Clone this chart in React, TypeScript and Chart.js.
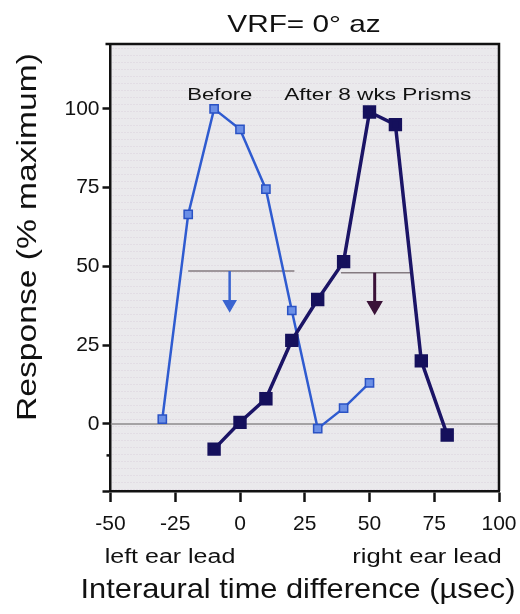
import React, { useEffect, useRef } from "react";
import { Chart, registerables } from "chart.js";

Chart.register(...registerables);

// ---- data ----
const itdBefore = [-30, -20, -10, 0, 10, 20, 30, 40, 50];
const respBefore = [1.5, 66.5, 100, 93.5, 74.5, 36, -1.5, 5, 13];
const itdAfter = [-10, 0, 10, 20, 30, 40, 50, 60, 70, 80];
const respAfter = [-8, 0.5, 8, 26.5, 39.5, 51.5, 99, 95, 20, -3.5];
const halfBeforeX = [-20, 21];
const halfBeforeY = 48.5;
const halfAfterX = [39, 66];
const halfAfterY = 48;
const arrowBeforeX = -4;
const arrowBeforeY = [48.5, 38];
const arrowAfterX = 52;
const arrowAfterY = [48, 37.5];
const zeroLineX = [-50, 100];
const xTickValues = [-50, -25, 0, 25, 50, 75, 100];
const yTickValues = [0, 25, 50, 75, 100];
const yMinorTick = -10;
const xRange = [-50, 100];
const yRange = [-21.3, 120.6];

const FONT = "'Liberation Sans', Arial, Helvetica, sans-serif";

function drawText(
  ctx: CanvasRenderingContext2D,
  text: string,
  x: number,
  y: number,
  size: number,
  sx = 1,
  rotate = 0,
  color = "#111"
) {
  ctx.save();
  ctx.translate(x, y);
  if (rotate) ctx.rotate(rotate);
  ctx.scale(sx, 1);
  ctx.font = `${size}px ${FONT}`;
  ctx.fillStyle = color;
  ctx.textAlign = "center";
  ctx.textBaseline = "alphabetic";
  ctx.fillText(text, 0, 0);
  ctx.restore();
}

const decorPlugin = {
  id: "decor",
  beforeDraw(chart: any) {
    const { ctx, chartArea: a } = chart;
    ctx.save();
    ctx.fillStyle = "#eae9ec";
    ctx.fillRect(a.left, a.top, a.right - a.left, a.bottom - a.top);
    // faint dotted texture
    ctx.fillStyle = "rgba(200,180,200,0.45)";
    for (let yy = a.top + 4; yy < a.bottom; yy += 7) {
      for (let xx = a.left + 2; xx < a.right; xx += 3) {
        ctx.fillRect(xx, yy, 1, 1);
      }
    }
    ctx.restore();
  },
  afterDraw(chart: any) {
    const { ctx, chartArea: a, scales } = chart;
    const x = scales.x;
    const y = scales.y;
    ctx.save();
    ctx.strokeStyle = "#111";
    ctx.lineWidth = 2.5;
    ctx.beginPath();
    ctx.moveTo(a.left - 5, a.top);
    ctx.lineTo(a.right, a.top);
    ctx.lineTo(a.right, a.bottom);
    ctx.stroke();
    const py = y.getPixelForValue(yMinorTick);
    ctx.beginPath();
    ctx.moveTo(a.left - 4, py);
    ctx.lineTo(a.left, py);
    ctx.stroke();
    ctx.restore();

    drawText(ctx, "VRF= 0\u00b0 az", 304, 32, 24, 1.24);
    drawText(ctx, "Before", x.getPixelForValue(-7.8), y.getPixelForValue(102.8), 17, 1.3);
    drawText(ctx, "After 8 wks Prisms", x.getPixelForValue(53.2), y.getPixelForValue(102.8), 17, 1.33);
    drawText(ctx, "left ear lead", 170, 563, 20, 1.25);
    drawText(ctx, "right ear lead", 427, 563, 20, 1.28);
    drawText(ctx, "Interaural time difference (\u00b5sec)", 298, 598, 28, 1.1);
    drawText(ctx, "Response (% maximum)", 36, 237, 28, 1.2, -Math.PI / 2);
  },
};

export default function App() {
  const ref = useRef<HTMLCanvasElement | null>(null);
  useEffect(() => {
    if (!ref.current) return;
    const pts = (xs: number[], ys: number[]) => xs.map((v, i) => ({ x: v, y: ys[i] }));
    const chart = new Chart(ref.current, {
      type: "line",
      data: {
        datasets: [
          {
            label: "zero",
            data: pts(zeroLineX, [0, 0]),
            borderColor: "#8c8a8c",
            borderWidth: 1.5,
            pointRadius: 0,
            order: 5,
          },
          {
            label: "halfBefore",
            data: pts(halfBeforeX, [halfBeforeY, halfBeforeY]),
            borderColor: "#847a80",
            borderWidth: 1.5,
            pointRadius: 0,
            order: 4,
          },
          {
            label: "halfAfter",
            data: pts(halfAfterX, [halfAfterY, halfAfterY]),
            borderColor: "#847a80",
            borderWidth: 1.5,
            pointRadius: 0,
            order: 4,
          },
          {
            label: "arrowBefore",
            data: pts([arrowBeforeX, arrowBeforeX], arrowBeforeY),
            borderColor: "#3a64d0",
            backgroundColor: "#3a64d0",
            borderWidth: 2.5,
            pointRadius: [0, 6],
            pointStyle: "triangle",
            rotation: 180,
            order: 3,
          },
          {
            label: "arrowAfter",
            data: pts([arrowAfterX, arrowAfterX], arrowAfterY),
            borderColor: "#3a1238",
            backgroundColor: "#3a1238",
            borderWidth: 3,
            pointRadius: [0, 6.5],
            pointStyle: "triangle",
            rotation: 180,
            order: 3,
          },
          {
            label: "Before",
            data: pts(itdBefore, respBefore),
            borderColor: "#2f5bd0",
            backgroundColor: "#6b8fe6",
            pointBorderColor: "#2a52c4",
            pointBorderWidth: 1.5,
            borderWidth: 2.5,
            pointRadius: 5.8,
            pointStyle: "rect",
            order: 2,
          },
          {
            label: "After 8 wks Prisms",
            data: pts(itdAfter, respAfter),
            borderColor: "#1b1466",
            backgroundColor: "#15105c",
            pointBorderColor: "#15105c",
            borderWidth: 3.5,
            pointRadius: 7,
            pointStyle: "rect",
            order: 1,
          },
        ],
      },
      options: {
        animation: false,
        responsive: false,
        events: [],
        layout: { padding: { top: 44, right: 21, left: 0, bottom: 0 } },
        plugins: { legend: { display: false }, title: { display: false }, tooltip: { enabled: false } },
        scales: {
          x: {
            type: "linear",
            min: xRange[0],
            max: xRange[1],
            afterFit: (s: any) => {
              s.height = 123;
              s.paddingLeft = 0;
              s.paddingRight = 0;
            },
            afterBuildTicks: (s: any) => {
              s.ticks = xTickValues.map((v) => ({ value: v }));
            },
            border: { display: true, color: "#111", width: 2.5 },
            grid: { drawOnChartArea: false, drawTicks: true, tickLength: 11, tickWidth: 2.5, tickColor: "#111" },
            ticks: {
              color: "#111",
              font: { family: FONT, size: 21 },
              padding: 10,
              maxRotation: 0,
              callback: (v: any) => String(v),
            },
          },
          y: {
            type: "linear",
            min: yRange[0],
            max: yRange[1],
            afterFit: (s: any) => {
              s.width = 110.5;
              s.paddingTop = 0;
              s.paddingBottom = 0;
            },
            afterBuildTicks: (s: any) => {
              s.ticks = [yRange[0], yMinorTick, ...yTickValues].map((v) => ({ value: v }));
            },
            border: { display: true, color: "#111", width: 2.5 },
            grid: {
              drawOnChartArea: false,
              drawTicks: true,
              tickLength: 8,
              tickWidth: 2.5,
              tickColor: (c: any) => (c.tick && c.tick.value === yMinorTick ? "rgba(0,0,0,0)" : "#111"),
            },
            ticks: {
              color: "#111",
              font: { family: FONT, size: 21 },
              padding: 3,
              callback: (v: any) => (yTickValues.includes(v) ? String(v) : ""),
            },
          },
        },
      },
      plugins: [decorPlugin],
    });
    return () => chart.destroy();
  }, []);
  return (
    <div style={{ position: "fixed", left: 0, top: 0, width: 520, height: 614, background: "#fff" }}>
      <canvas ref={ref} width={520} height={614} style={{ display: "block" }} />
    </div>
  );
}
